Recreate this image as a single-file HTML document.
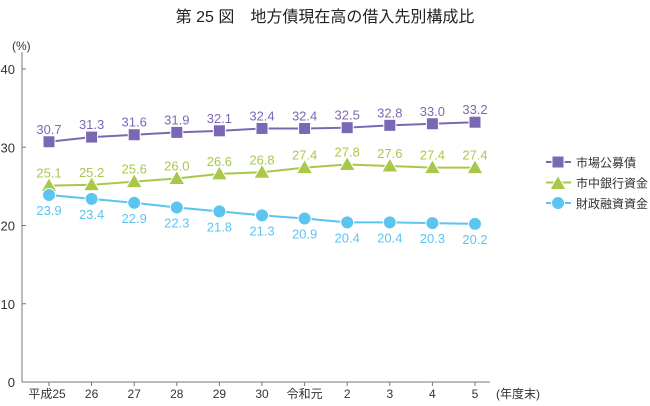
<!DOCTYPE html>
<html><head><meta charset="utf-8"><style>
body{margin:0;background:#fff;font-family:"Liberation Sans","Noto Sans CJK JP",sans-serif;}
svg text{font-family:"Liberation Sans","Noto Sans CJK JP",sans-serif;}
</style></head><body>
<svg id="c" width="650" height="401" viewBox="0 0 650 401" xmlns="http://www.w3.org/2000/svg">
<text x="325" y="22" text-anchor="middle" font-size="16" fill="#222">第 25 図　地方債現在高の借入先別構成比</text>
<text x="12" y="50" font-size="12" fill="#333">(%)</text>
<text x="496" y="398" font-size="12" fill="#333">(年度末)</text>
<g id="axes"></g><g id="series"></g>
<g id="legend"></g>
</svg>
<script>
const categories=["平成25","26","27","28","29","30","令和元","2","3","4","5"];
const marketBonds=[30.7,31.3,31.6,31.9,32.1,32.4,32.4,32.5,32.8,33.0,33.2];
const bankFunds=[25.1,25.2,25.6,26.0,26.6,26.8,27.4,27.8,27.6,27.4,27.4];
const fiscalFunds=[23.9,23.4,22.9,22.3,21.8,21.3,20.9,20.4,20.4,20.3,20.2];
const yTicks=[0,10,20,30,40];
const seriesNames=["市場公募債","市中銀行資金","財政融資資金"];
const NS="http://www.w3.org/2000/svg";
function mk(t,a,p){const e=document.createElementNS(NS,t);for(const k in a)e.setAttribute(k,a[k]);p.appendChild(e);return e;}
const x=i=>49+42.6*i, y=v=>382-v*(382-69)/40;
const ax=document.getElementById('axes');
const yl=mk('line',{x1:22,y1:52,x2:22,y2:382,stroke:'#777','stroke-width':1},ax);

const xl=mk('line',{x1:22,y1:382,x2:490,y2:382,stroke:'#777','stroke-width':1},ax);

yTicks.forEach(v=>{mk('line',{x1:22,x2:26,y1:y(v),y2:y(v),stroke:'#777'},ax);
const t=mk('text',{x:15,y:y(v)+5,'text-anchor':'end','font-size':13,fill:'#333'},ax);t.textContent=v;
});
categories.forEach((c,i)=>{mk('line',{x1:x(i),x2:x(i),y1:382,y2:386,stroke:'#777'},ax);
const t=mk('text',{x:x(i)+(i==0?-2:0),y:398,'text-anchor':'middle','font-size':12,fill:'#333'},ax);t.textContent=c;
});
const cfg=[{d:marketBonds,c:'#7b68b5',m:'sq',lab:-8},{d:bankFunds,c:'#a8c84a',m:'tri',lab:-8},{d:fiscalFunds,c:'#5bc5ef',m:'cir',lab:20}];
const sg=document.getElementById('series');
function marker(m,cx,cy,c,p){let e;
if(m=='sq')e=mk('rect',{x:cx-6,y:cy-6,width:12,height:12,fill:c,stroke:'#fff','stroke-width':1},p);
else if(m=='tri')e=mk('polygon',{points:`${cx},${cy-8} ${cx-8},${cy+6} ${cx+8},${cy+6}`,fill:c,stroke:'#fff','stroke-width':1},p);
else e=mk('circle',{cx:cx,cy:cy,r:6.5,fill:c,stroke:'#fff','stroke-width':1},p);return e;}
cfg.forEach((s,k)=>{const g=mk('g',{},sg);

const pl=mk('polyline',{points:s.d.map((v,i)=>x(i)+','+y(v)).join(' '),fill:'none',stroke:s.c,'stroke-width':2},g);

s.d.forEach((v,i)=>{const m=marker(s.m,x(i),y(v),s.c,g);

const t=mk('text',{x:x(i),y:y(v)+s.lab,'text-anchor':'middle','font-size':13,fill:s.c},g);t.textContent=v.toFixed(1);
});});
const lg=document.getElementById('legend');
cfg.forEach((s,k)=>{const ly=162+20.5*k;const g=mk('g',{},lg);

mk('line',{x1:546,x2:571,y1:ly,y2:ly,stroke:s.c,'stroke-width':2},g);
marker(s.m,558,ly+(s.m=='tri'?1:0),s.c,g);
const t=mk('text',{x:576,y:ly+5,'font-size':12,fill:'#333'},g);t.textContent=seriesNames[k];});
</script>
</body></html>
